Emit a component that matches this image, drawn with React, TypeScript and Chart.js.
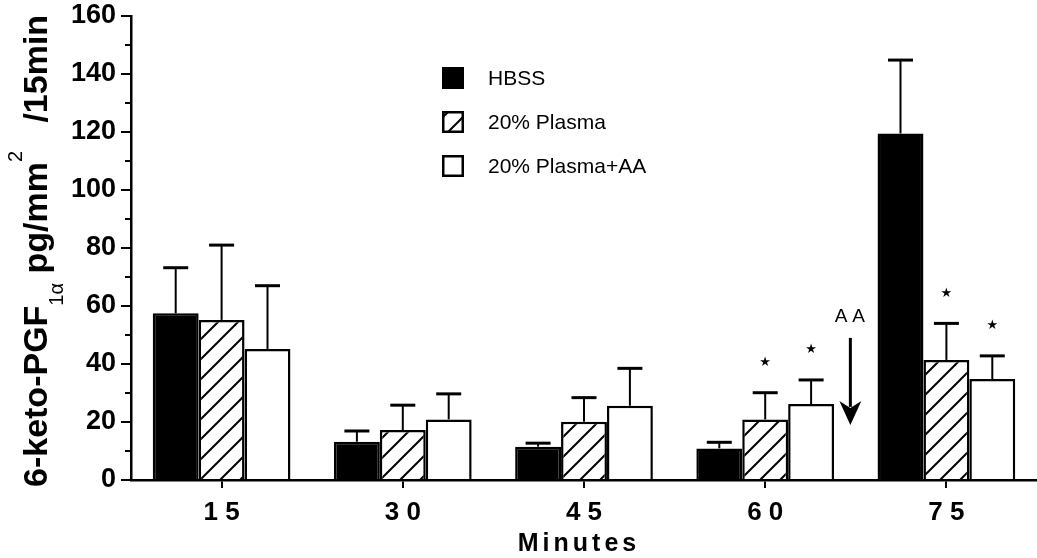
import React, { useEffect, useRef } from 'react';
import { Chart, registerables } from 'chart.js';

Chart.register(...registerables);

// ---- data ----
const categories = ['15', '30', '45', '60', '75'];
const seriesLabels = ['HBSS', '20% Plasma', '20% Plasma+AA'];
const hbss = [57.5, 13.2, 11.5, 10.9, 119.5];
const hbssErr = [15.7, 3.7, 1.2, 2.1, 25.3];
const plasma = [55.2, 17.2, 20.1, 20.9, 41.4];
const plasmaErr = [25.8, 8.6, 8.3, 9.2, 12.6];
const plasmaAA = [45.2, 20.9, 25.6, 26.2, 34.8];
const plasmaAAErr = [21.8, 8.8, 12.9, 8.3, 8.0];
const hbssSig = [false, false, false, false, false];
const plasmaSig = [false, false, false, true, true];
const plasmaAASig = [false, false, false, true, true];
const yMin = 0;
const yMax = 160;
const yStep = 20;
const yMinorStep = 10;
const arrowLabel = 'AA';
const arrowAt = 3.47; // category-index position of the AA arrow
const arrowFrom = 49;
const arrowTo = 19;
const xTitle = 'Minutes';

const FONT = '"Liberation Sans", Arial, Helvetica, sans-serif';

function makeHatch(): CanvasPattern | string {
  const c = document.createElement('canvas');
  c.width = 20;
  c.height = 20;
  const g = c.getContext('2d');
  if (!g) return '#fff';
  g.fillStyle = '#fff';
  g.fillRect(0, 0, 20, 20);
  g.strokeStyle = '#000';
  g.lineWidth = 2;
  g.beginPath();
  g.moveTo(-2, 22);
  g.lineTo(22, -2);
  g.moveTo(-12, 12);
  g.lineTo(12, -12);
  g.moveTo(8, 32);
  g.lineTo(32, 8);
  g.stroke();
  return g.createPattern(c, 'repeat') || '#fff';
}

export default function App() {
  const ref = useRef<HTMLCanvasElement | null>(null);

  useEffect(() => {
    if (!ref.current) return;
    const hatch = makeHatch();
    const errs = [hbssErr, plasmaErr, plasmaAAErr];
    const sigs = [hbssSig, plasmaSig, plasmaAASig];

    const decorations = {
      id: 'decorations',
      afterDatasetsDraw(chart: any) {
        const ctx = chart.ctx as CanvasRenderingContext2D;
        const y = chart.scales.y;
        const x = chart.scales.x;
        const area = chart.chartArea;
        ctx.save();
        // error bars and significance stars
        chart.data.datasets.forEach((ds: any, i: number) => {
          const meta = chart.getDatasetMeta(i);
          meta.data.forEach((bar: any, j: number) => {
            const v = ds.data[j];
            const yCap = y.getPixelForValue(v + errs[i][j]);
            ctx.strokeStyle = '#000';
            ctx.lineWidth = 2;
            ctx.beginPath();
            ctx.moveTo(bar.x, bar.y);
            ctx.lineTo(bar.x, yCap);
            ctx.stroke();
            ctx.lineWidth = 3;
            ctx.beginPath();
            ctx.moveTo(bar.x - 12.5, yCap);
            ctx.lineTo(bar.x + 12.5, yCap);
            ctx.stroke();
            if (sigs[i][j]) {
              ctx.fillStyle = '#000';
              ctx.font = `13px "DejaVu Sans", ${FONT}`;
              ctx.textAlign = 'center';
              ctx.textBaseline = 'middle';
              ctx.fillText('★', bar.x, yCap - 30);
            }
          });
        });

        // AA arrow
        const ax = x.getPixelForValue(arrowAt);
        const yStart = y.getPixelForValue(arrowFrom);
        const yTip = y.getPixelForValue(arrowTo);
        ctx.strokeStyle = '#000';
        ctx.fillStyle = '#000';
        ctx.lineWidth = 3;
        ctx.beginPath();
        ctx.moveTo(ax, yStart);
        ctx.lineTo(ax, yTip - 18);
        ctx.stroke();
        ctx.beginPath();
        ctx.moveTo(ax - 11, yTip - 24);
        ctx.lineTo(ax, yTip - 17);
        ctx.lineTo(ax + 11, yTip - 24);
        ctx.lineTo(ax, yTip);
        ctx.closePath();
        ctx.fill();
        ctx.font = `19px ${FONT}`;
        (ctx as any).letterSpacing = '5px';
        ctx.textAlign = 'center';
        ctx.textBaseline = 'middle';
        ctx.fillText(arrowLabel, ax + 2, yStart - 21);
        (ctx as any).letterSpacing = '0px';

        // minor y ticks
        ctx.lineWidth = 2;
        for (let v = yMin + yMinorStep; v < yMax; v += yStep) {
          const py = y.getPixelForValue(v);
          ctx.beginPath();
          ctx.moveTo(area.left - 6, py);
          ctx.lineTo(area.left, py);
          ctx.stroke();
        }

        // legend
        const lx = area.left + 311;
        const ly0 = area.top + 62;
        const gap = 44;
        chart.data.datasets.forEach((ds: any, i: number) => {
          const cy = ly0 + i * gap;
          ctx.fillStyle = ds.backgroundColor;
          ctx.fillRect(lx, cy - 11, 22, 22);
          ctx.strokeStyle = '#000';
          ctx.lineWidth = 2.5;
          ctx.strokeRect(lx + 1.25, cy - 9.75, 19.5, 19.5);
          ctx.fillStyle = '#000';
          ctx.font = `21px ${FONT}`;
          ctx.textAlign = 'left';
          ctx.textBaseline = 'middle';
          ctx.fillText(ds.label, lx + 46, cy + 1);
        });

        // x title
        ctx.fillStyle = '#000';
        ctx.font = `bold 25px ${FONT}`;
        (ctx as any).letterSpacing = '4px';
        ctx.textAlign = 'center';
        ctx.textBaseline = 'middle';
        ctx.fillText(xTitle, 579, 544);
        (ctx as any).letterSpacing = '0px';

        // y title with sub/superscripts
        ctx.translate(47, 487);
        ctx.rotate(-Math.PI / 2);
        ctx.textAlign = 'left';
        ctx.textBaseline = 'alphabetic';
        const parts = [
          { t: '6-keto-PGF', f: `bold 34px ${FONT}`, dy: 0 },
          { t: '1\u03b1', f: `20px ${FONT}`, dy: 16 },
          { t: ' pg/mm', f: `bold 34px ${FONT}`, dy: 0 },
          { t: '2', f: `20px ${FONT}`, dy: -25 },
          { t: '   /15min', f: `bold 34px ${FONT}`, dy: 0 },
        ];
        let cx = 0;
        for (const p of parts) {
          ctx.font = p.f;
          ctx.fillText(p.t, cx, p.dy);
          cx += ctx.measureText(p.t).width;
        }
        ctx.restore();
      },
    };

    const chart = new Chart(ref.current, {
      type: 'bar',
      data: {
        labels: categories,
        datasets: [
          { label: seriesLabels[0], data: hbss, backgroundColor: '#000', borderColor: '#000', borderWidth: 2.5 },
          { label: seriesLabels[1], data: plasma, backgroundColor: hatch as any, borderColor: '#000', borderWidth: 2.5 },
          { label: seriesLabels[2], data: plasmaAA, backgroundColor: '#fff', borderColor: '#000', borderWidth: 2.5 },
        ],
      },
      options: {
        animation: false,
        responsive: true,
        maintainAspectRatio: false,
        layout: { padding: { top: 16, left: 0, right: 0, bottom: 0 } },
        datasets: { bar: { categoryPercentage: 0.76, barPercentage: 1 } },
        plugins: {
          legend: { display: false },
          title: { display: false },
          tooltip: { enabled: false },
        },
        scales: {
          x: {
            offset: true,
            grid: { display: true, offset: false, drawOnChartArea: false, drawTicks: true, tickLength: 8, color: '#000', lineWidth: 2 },
            border: { display: true, color: '#000', width: 2.5 },
            ticks: {
              color: '#000',
              font: { family: FONT, size: 26, weight: 'bold' },
              padding: 9,
              maxRotation: 0,
              callback: (_v: any, i: number) => categories[i].split('').join(' '),
            },
            afterFit: (s: any) => {
              s.height = 78;
              s.paddingLeft = 0;
              s.paddingRight = 0;
            },
          },
          y: {
            min: yMin,
            max: yMax,
            grid: { display: true, drawOnChartArea: false, drawTicks: true, tickLength: 10, color: '#000', lineWidth: 2 },
            border: { display: true, color: '#000', width: 2.5 },
            ticks: {
              stepSize: yStep,
              color: '#000',
              font: { family: FONT, size: 27, weight: 'bold' },
              padding: 5,
            },
            afterFit: (s: any) => {
              s.width = 131;
              s.paddingTop = 16;
              s.paddingBottom = 0;
            },
          },
        },
      },
      plugins: [decorations],
    });
    return () => chart.destroy();
  }, []);

  return (
    <div style={{ position: 'fixed', left: 0, top: 0, width: 1037, height: 558 }}>
      <canvas ref={ref} />
    </div>
  );
}
